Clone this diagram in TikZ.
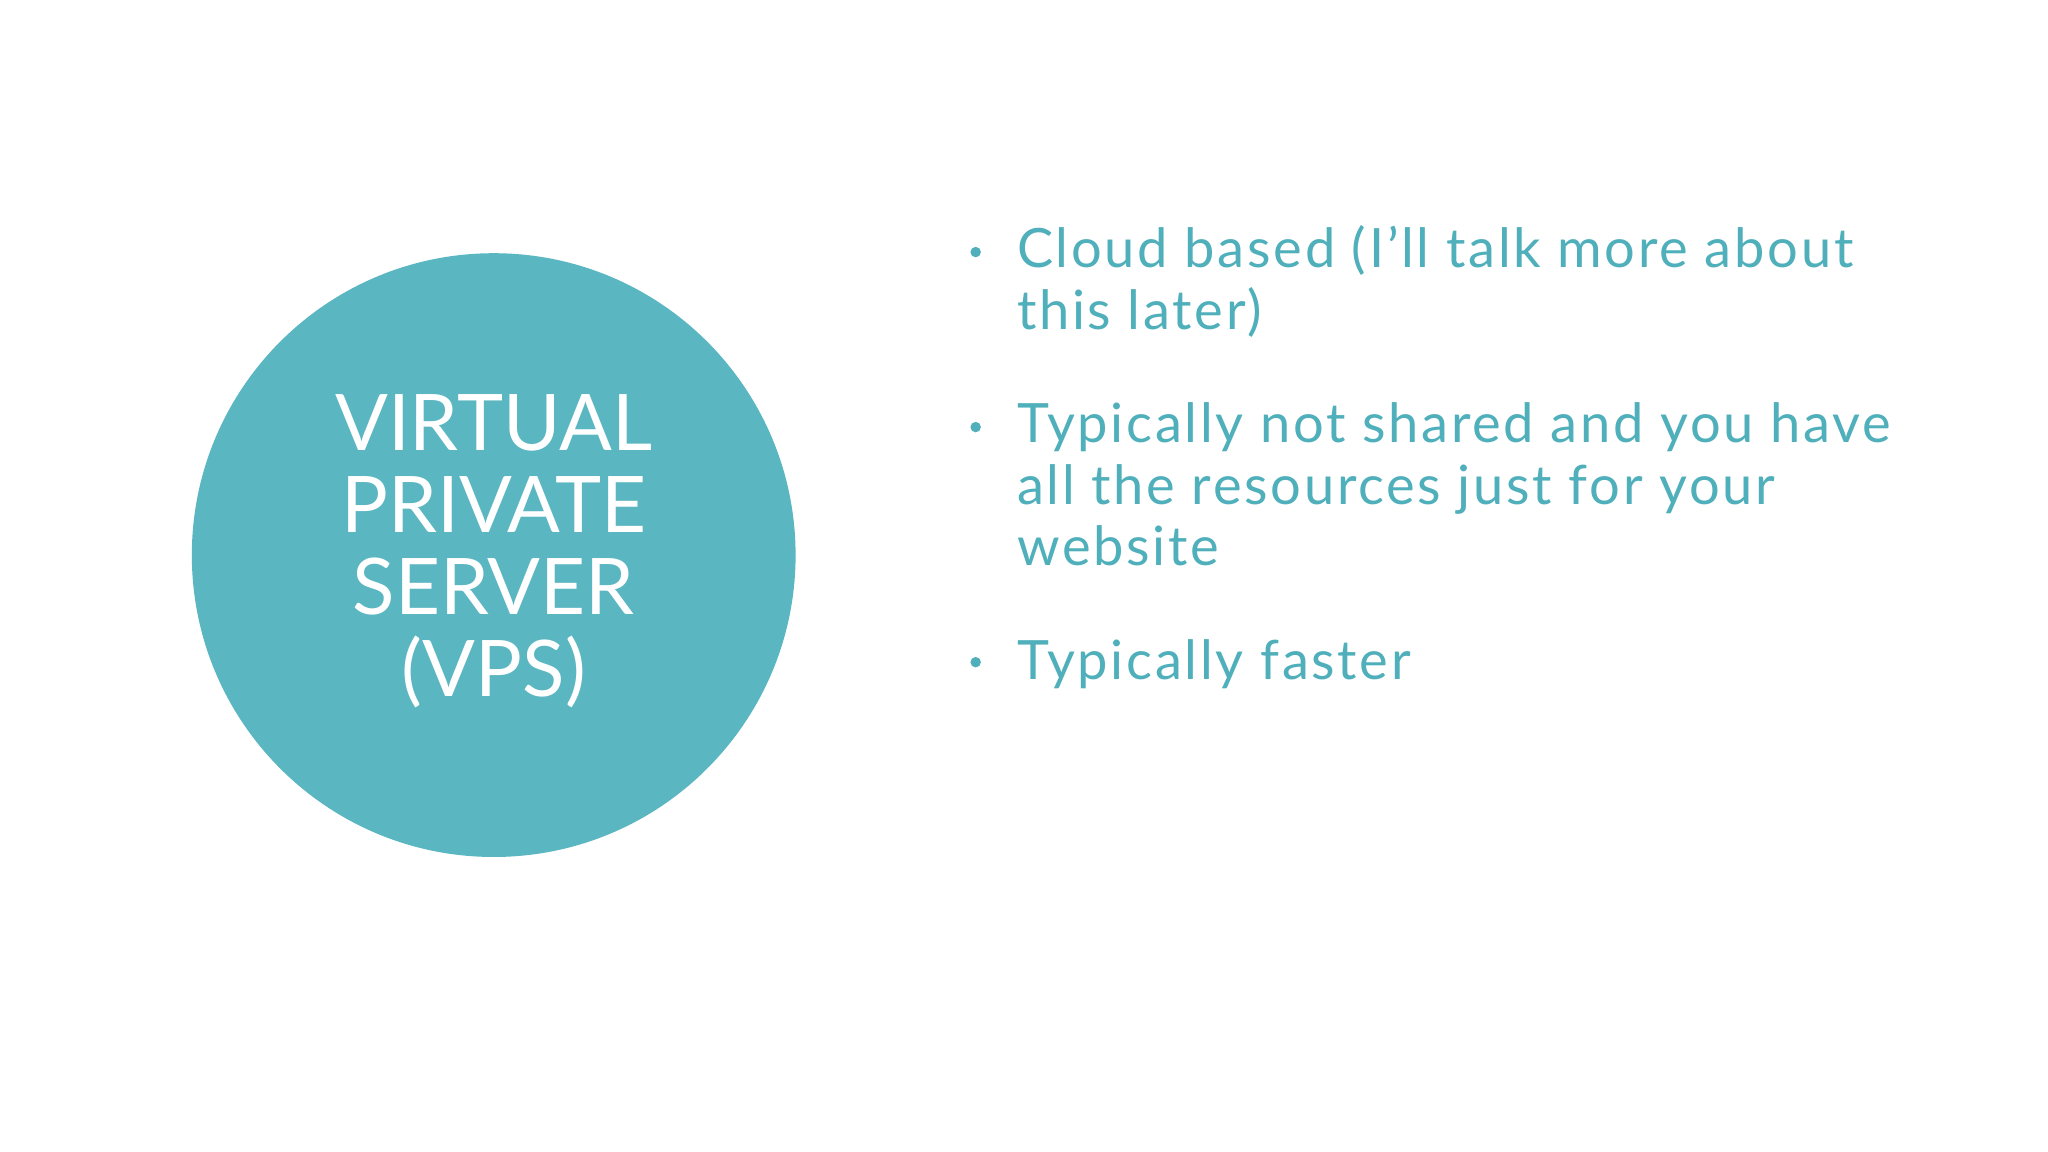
\documentclass[tikz,border=0pt]{standalone}
\usepackage{fontspec}
\setmainfont{Lato}
\newfontfamily\spaced[LetterSpace=5]{Lato}
\definecolor{teal1}{HTML}{5AB6C1}
\definecolor{tealtxt}{HTML}{4FAFBB}
\tikzset{
  bullettext/.style={anchor=base west, align=left, text=tealtxt, font=\spaced\fontsize{11.8}{13.4}\selectfont, inner sep=0pt},
  bulletdot/.style={circle, fill=tealtxt, inner sep=0pt, minimum size=0.08cm}
}
\begin{document}
\begin{tikzpicture}[x=0.01cm,y=-0.01cm]
\useasboundingbox (0,0) rectangle (1568,882);
\fill[white] (0,0) rectangle (1568,882);
\node[circle, fill=teal1, minimum size=4.62cm, inner sep=0pt] (c) at (378,425) {};
\node[text=white, align=center, font=\fontsize{17}{17.9}\selectfont] (t) at (378,422) {VIRTUAL\\PRIVATE\\SERVER\\(VPS)};
\node[bullettext] (b1) at (778,252) {Cloud based (I’ll talk more about\\this later)};
\node[bullettext] (b2) at (778,433) {Typically not shared and you have\\all the resources just for your\\website};
\node[bullettext] (b3) at (778,520) {Typically faster};
\node[bulletdot] (d1) at (747,193) {};
\node[bulletdot] (d2) at (747,327) {};
\node[bulletdot] (d3) at (747,507) {};
\end{tikzpicture}
\end{document}
